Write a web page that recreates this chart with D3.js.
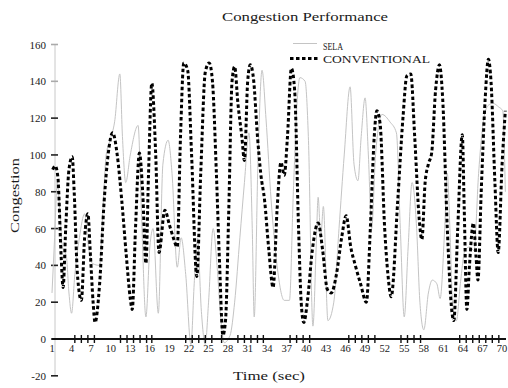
<!DOCTYPE html>
<html>
<head>
<meta charset="utf-8">
<script src="https://cdn.jsdelivr.net/npm/d3@7"></script>
<style>
  body { margin: 0; background: #fff; }
  text { font-family: "Liberation Serif", "Times New Roman", serif; fill: #1a1a1a; }
</style>
</head>
<body>
<div id="chart"></div>
<script>
// data (time in sec, congestion)
var convTime = [1.1,1.5,1.9,2.4,2.7,3.1,3.6,4.1,4.4,4.9,5.5,6.0,6.5,6.9,7.3,7.6,8.3,9.0,9.6,10.3,
  11.0,11.7,12.4,13.0,13.3,13.8,14.4,14.9,15.4,15.8,16.3,16.9,17.4,18.3,19.0,19.6,20.2,20.7,21.2,21.8,
  22.4,23.2,23.8,24.5,25.1,25.6,26.2,26.7,27.2,27.6,28.1,28.6,29.0,29.5,30.1,30.5,31.0,31.4,31.9,32.5,
  33.0,33.6,34.2,34.9,35.5,36.1,36.6,37.1,37.7,38.2,38.8,39.2,39.6,40.2,40.9,41.8,42.5,43.2,43.8,44.6,
  45.4,46.1,46.8,47.5,48.3,49.2,49.8,50.4,50.8,51.3,52.0,52.5,53.0,54.0,54.8,55.4,56.0,56.6,57.3,57.7,
  58.2,58.7,59.2,59.8,60.4,60.9,61.6,62.3,62.6,63.2,63.9,64.2,64.6,65.0,65.6,66.0,66.3,66.8,67.4,67.9,
  68.3,68.9,69.4,70.0,70.5];
var convValue = [92,94,88,45,28,60,92,99,80,35,21,55,68,45,20,9,30,75,100,112,
  100,75,45,22,16,60,101,80,41,90,139,100,47,70,62,55,50,110,150,146,
  100,34,90,145,150,140,90,40,2,10,70,140,148,128,110,97,140,149,141,110,
  90,75,50,28,70,96,89,110,147,135,60,20,9,22,48,63,48,27,25,35,
  55,67,50,40,30,20,60,110,124,117,60,35,23,75,120,143,144,110,65,54,
  85,95,101,135,149,130,60,15,10,60,111,70,16,40,63,45,32,80,130,152,
  140,85,47,95,124];

var selaTime = [1.0,1.4,1.8,2.2,2.6,3.2,3.6,4.0,4.5,5.2,6.0,6.6,7.2,8.3,8.8,9.3,9.9,10.6,11.4,11.8,
  12.3,13.0,14.2,14.7,15.4,16.0,16.5,17.3,18.0,18.8,19.4,20.2,20.8,21.5,22.3,22.8,23.3,23.9,24.5,25.0,
  25.7,26.3,26.9,27.4,28.3,29.0,29.8,30.5,31.2,31.7,32.0,32.6,33.2,33.8,34.6,35.5,36.6,37.4,38.0,38.6,
  39.0,39.8,40.3,41.0,41.5,41.8,42.2,42.6,43.3,44.2,45.0,45.8,46.7,47.3,47.9,48.4,49.0,49.5,50.0,50.6,
  51.6,52.8,53.8,54.4,55.0,55.6,56.2,56.9,57.4,58.0,58.7,59.3,60.0,60.5,61.2,61.6,62.0,62.4,63.0,63.6,
  64.3,65.0,65.7,66.4,67.2,67.9,68.6,69.5,70.1,70.5];
var selaValue = [25,55,85,70,50,45,25,14,35,55,68,50,41,40,70,100,108,118,144,110,
  85,100,116,70,12,50,60,14,95,108,90,39,55,35,-3,30,55,15,-3,20,
  60,40,10,-2,2,20,55,85,112,60,12,100,146,120,75,40,21,21,80,130,
  142,140,110,7,50,77,55,72,10,20,60,100,137,95,86,110,131,100,60,100,
  122,118,112,60,12,50,85,60,20,5,25,32,30,22,60,90,60,20,10,30,
  48,50,48,90,120,127,128,126,124,80];

var yTicks = [-20, 0, 20, 40, 60, 80, 100, 120, 140, 160];
var xLabels = d3.range(1, 71, 3);
// tick marks that show on the time axis
var xTickMarks = [4.5,5.5,6.5,7.5,11.5,12.5,13.5,14.5,15.5,16.3,21.5,22.5,23.5,24.5,25.5,27,29.5,30.5,31.5,32.5,33.4,
  37.5,38.5,39.5,40.5,46.5,47.5,48.5,49.5,50.5,54.5,55.5,56.5,57.5,63.5,64.5,65.5,66.5,67.5,68.5,69.5];

var W = 508, H = 388;
var svg = d3.select('#chart').append('svg').attr('width', W).attr('height', H);

var x = d3.scaleLinear().domain([1, 70.6]).range([52, 506]);
var y = d3.scaleLinear().domain([0, 160]).range([339, 44.5]);

// title
svg.append('text').attr('x', 222).attr('y', 21)
  .attr('textLength', 166).attr('lengthAdjust', 'spacingAndGlyphs')
  .style('font-size', '13px').text('Congestion Performance');

// y axis (light line, dark ticks)
svg.append('line').attr('x1', 55).attr('x2', 55).attr('y1', y(160)).attr('y2', y(-20))
  .attr('stroke', '#c8c8c8').attr('stroke-width', 1);
var gy = svg.append('g');
gy.selectAll('line').data(yTicks).enter().append('line')
  .attr('x1', 51).attr('x2', 58)
  .attr('y1', function(d) { return y(d); }).attr('y2', function(d) { return y(d); })
  .attr('stroke', function(d) { return d >= 140 ? '#aaa' : '#222'; })
  .attr('stroke-width', 1.6);
gy.selectAll('text').data(yTicks).enter().append('text')
  .attr('x', 46).attr('y', function(d) { return y(d) + 4; })
  .attr('text-anchor', 'end').style('font-size', '11px')
  .text(function(d) { return d; });

svg.append('text').attr('transform', 'translate(19,233) rotate(-90)')
  .attr('textLength', 75).attr('lengthAdjust', 'spacingAndGlyphs')
  .style('font-size', '13px').text('Congestion');

// series
var line = d3.line()
  .x(function(d) { return x(d[0]); })
  .y(function(d) { return y(d[1]); })
  .curve(d3.curveMonotoneX);

svg.append('path').datum(d3.zip(selaTime, selaValue))
  .attr('d', line).attr('fill', 'none')
  .attr('stroke', '#c4c4c4').attr('stroke-width', 1);

// x axis (drawn at zero)
var gx = svg.append('g');
gx.append('line').attr('x1', 52).attr('x2', 506).attr('y1', y(0)).attr('y2', y(0))
  .attr('stroke', '#111').attr('stroke-width', 1.8);
gx.selectAll('line.tk').data(xTickMarks).enter().append('line').attr('class', 'tk')
  .attr('x1', function(d) { return x(d); }).attr('x2', function(d) { return x(d); })
  .attr('y1', y(0) - 4).attr('y2', y(0) + 4)
  .attr('stroke', '#111').attr('stroke-width', 1.4);
gx.selectAll('text').data(xLabels).enter().append('text')
  .attr('x', function(d) { return x(d); }).attr('y', 352)
  .attr('text-anchor', 'middle').style('font-size', '10.5px')
  .text(function(d) { return d; });

svg.append('path').datum(d3.zip(convTime, convValue))
  .attr('d', line).attr('fill', 'none')
  .attr('stroke', '#000').attr('stroke-width', 3)
  .attr('stroke-dasharray', '3.5,2.5');

svg.append('text').attr('x', 233).attr('y', 380)
  .attr('textLength', 72).attr('lengthAdjust', 'spacingAndGlyphs')
  .style('font-size', '13px').text('Time (sec)');

// legend
var legend = svg.append('g');
legend.append('line').attr('x1', 293).attr('x2', 317).attr('y1', 43.5).attr('y2', 43.5)
  .attr('stroke', '#c4c4c4').attr('stroke-width', 1);
legend.append('text').attr('x', 323).attr('y', 49.5)
  .attr('textLength', 20).attr('lengthAdjust', 'spacingAndGlyphs')
  .style('font-size', '11px').text('SELA');
legend.append('line').attr('x1', 290).attr('x2', 320).attr('y1', 58.5).attr('y2', 58.5)
  .attr('stroke', '#000').attr('stroke-width', 3).attr('stroke-dasharray', '3.5,2.5');
legend.append('text').attr('x', 323).attr('y', 63)
  .attr('textLength', 107).attr('lengthAdjust', 'spacingAndGlyphs')
  .style('font-size', '11px').text('CONVENTIONAL');
</script>
</body>
</html>
